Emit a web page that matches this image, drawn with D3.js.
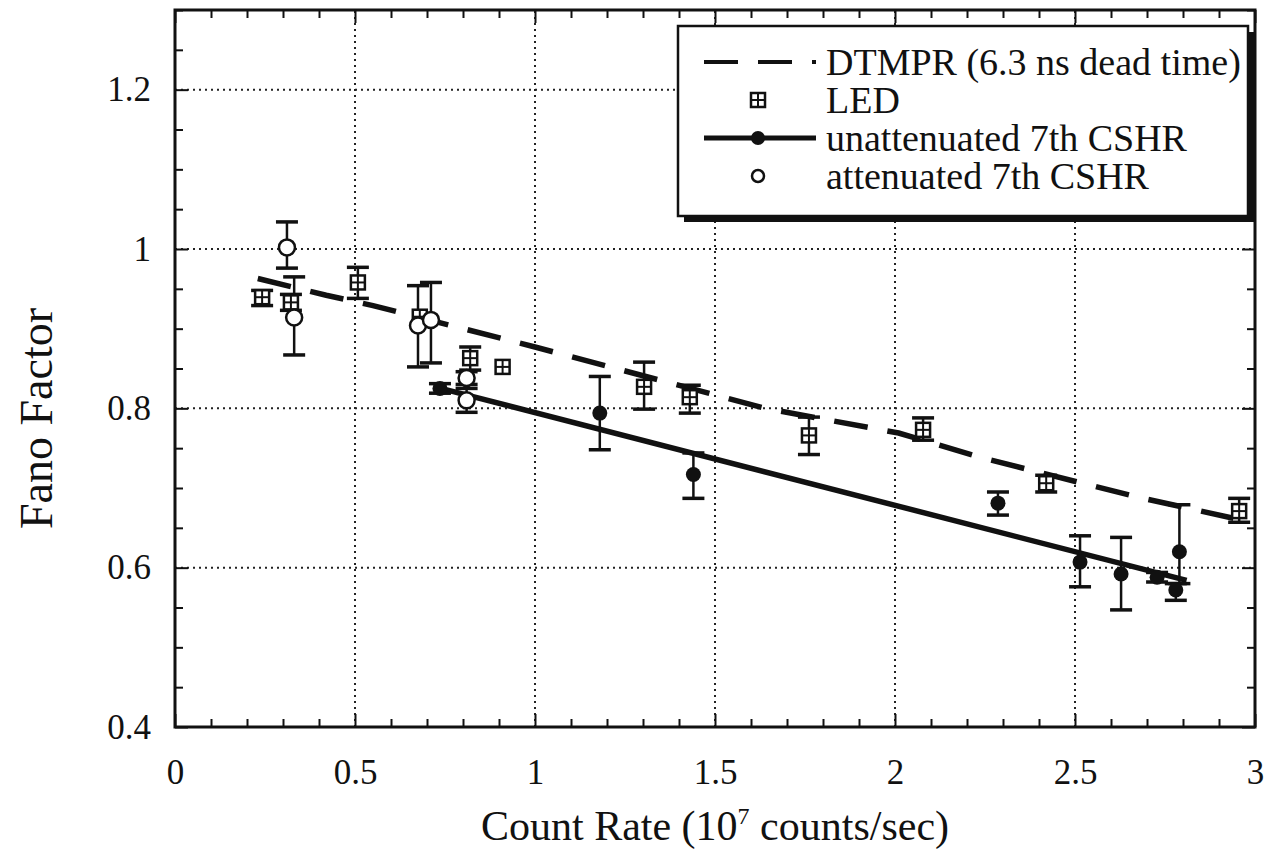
<!DOCTYPE html>
<html>
<head>
<meta charset="utf-8">
<script src="https://cdn.jsdelivr.net/npm/d3@7"></script>
<style>
  body { margin: 0; background: #fff; }
  text { font-family: "Liberation Serif", "DejaVu Serif", serif; fill: #111; }
</style>
</head>
<body>
<svg id="chart" width="1264" height="854"></svg>
<script>
const width = 1264, height = 854;
const marginLeft = 175, marginRight = 9, marginTop = 10, marginBottom = 127;

// DTMPR model curve
const dtmprX = [0.23, 0.42, 0.55, 1.0, 1.64, 2.01, 2.24, 2.67, 2.94];
const dtmprY = [0.963, 0.942, 0.929, 0.877, 0.80, 0.769, 0.738, 0.689, 0.662];

// LED points with error bar ends
const ledX  = [0.242, 0.322, 0.508, 0.68, 0.82, 0.91, 1.303, 1.43, 1.761, 2.078, 2.42, 2.956];
const ledY  = [0.9395, 0.933, 0.958, 0.915, 0.863, 0.852, 0.827, 0.814, 0.766, 0.773, 0.706, 0.671];
const ledHi = [0.948, 0.943, 0.977, 0.915, 0.877, 0.852, 0.858, 0.829, 0.789, 0.788, 0.716, 0.687];
const ledLo = [0.929, 0.923, 0.938, 0.915, 0.848, 0.852, 0.799, 0.794, 0.742, 0.760, 0.695, 0.657];

// unattenuated 7th CSHR (filled) and its fit line
const unX  = [0.736, 1.18, 1.44, 2.286, 2.514, 2.628, 2.728, 2.79, 2.78];
const unY  = [0.825, 0.794, 0.717, 0.681, 0.607, 0.592, 0.588, 0.62, 0.572];
const unHi = [0.831, 0.84, 0.744, 0.695, 0.64, 0.638, 0.594, 0.679, 0.58];
const unLo = [0.819, 0.748, 0.687, 0.666, 0.576, 0.547, 0.582, 0.58, 0.559];
const fitX = [0.722, 2.81];
const fitY = [0.827, 0.584];

// attenuated 7th CSHR (open)
const atX  = [0.311, 0.331, 0.675, 0.711, 0.81, 0.81];
const atY  = [1.002, 0.914, 0.904, 0.911, 0.838, 0.81];
const atHi = [1.034, 0.965, 0.954, 0.958, 0.846, 0.825];
const atLo = [0.976, 0.867, 0.852, 0.857, 0.830, 0.795];

const xMajor = [0, 0.5, 1, 1.5, 2, 2.5, 3];
const xLabels = ["0", "0.5", "1", "1.5", "2", "2.5", "3"];
const yMajor = [0.4, 0.6, 0.8, 1.0, 1.2];
const yLabels = ["0.4", "0.6", "0.8", "1", "1.2"];
const legendNames = ["DTMPR (6.3 ns dead time)", "LED", "unattenuated 7th CSHR", "attenuated 7th CSHR"];

const svg = d3.select("#chart");
svg.append("rect").attr("width", width).attr("height", height).attr("fill", "#fff");

const x = d3.scaleLinear().domain([0, 3]).range([marginLeft, width - marginRight]);
const y = d3.scaleLinear().domain([0.4, 1.3]).range([height - marginBottom, marginTop]);
const x0 = x.range()[0], x1 = x.range()[1], y0 = y.range()[0], y1 = y.range()[1];

// dotted grid at major ticks
svg.append("g")
  .selectAll("line.gx").data(xMajor.slice(1, -1)).join("line")
    .attr("x1", d => x(d)).attr("x2", d => x(d))
    .attr("y1", y0).attr("y2", y1)
    .attr("stroke", "#222").attr("stroke-width", 2).attr("stroke-dasharray", "2,4");
svg.append("g")
  .selectAll("line.gy").data(yMajor.slice(1)).join("line")
    .attr("x1", x0).attr("x2", x1)
    .attr("y1", d => y(d)).attr("y2", d => y(d))
    .attr("stroke", "#222").attr("stroke-width", 2).attr("stroke-dasharray", "2,4");

// axes with inward ticks, minor ticks on all four sides
const xMinor = d3.range(0, 3.001, 0.1).filter(v => Math.abs(v * 2 - Math.round(v * 2)) > 1e-6);
const yMinor = d3.range(0.4, 1.301, 0.05).filter(v => Math.abs(v * 5 - Math.round(v * 5)) > 1e-6);

function styleAxis(g) {
  g.selectAll(".domain").remove();
  g.selectAll(".tick line").attr("stroke", "#111").attr("stroke-width", 2);
}

svg.append("g").attr("transform", `translate(0,${y0})`)
  .call(d3.axisBottom(x).tickValues(xMajor).tickSize(-13).tickPadding(32).tickFormat((d, i) => xLabels[i]))
  .call(styleAxis)
  .call(g => g.selectAll(".tick text").style("font-size", "35px").attr("font-family", null));
svg.append("g").attr("transform", `translate(0,${y0})`)
  .call(d3.axisBottom(x).tickValues(xMinor).tickSize(-8).tickFormat(""))
  .call(styleAxis);
svg.append("g").attr("transform", `translate(0,${y1})`)
  .call(d3.axisTop(x).tickValues(xMajor).tickSize(-13).tickFormat(""))
  .call(styleAxis);
svg.append("g").attr("transform", `translate(0,${y1})`)
  .call(d3.axisTop(x).tickValues(xMinor).tickSize(-8).tickFormat(""))
  .call(styleAxis);

svg.append("g").attr("transform", `translate(${x0},0)`)
  .call(d3.axisLeft(y).tickValues(yMajor).tickSize(-13).tickPadding(24).tickFormat((d, i) => yLabels[i]))
  .call(styleAxis)
  .call(g => g.selectAll(".tick text").style("font-size", "35px").attr("font-family", null));
svg.append("g").attr("transform", `translate(${x0},0)`)
  .call(d3.axisLeft(y).tickValues(yMinor).tickSize(-8).tickFormat(""))
  .call(styleAxis);
svg.append("g").attr("transform", `translate(${x1},0)`)
  .call(d3.axisRight(y).tickValues(yMajor).tickSize(-13).tickFormat(""))
  .call(styleAxis);
svg.append("g").attr("transform", `translate(${x1},0)`)
  .call(d3.axisRight(y).tickValues(yMinor).tickSize(-8).tickFormat(""))
  .call(styleAxis);

// frame
svg.append("rect")
  .attr("x", x0).attr("y", y1).attr("width", x1 - x0).attr("height", y0 - y1)
  .attr("fill", "none").attr("stroke", "#111").attr("stroke-width", 3);

// axis titles
svg.append("text")
  .attr("x", (x0 + x1) / 2).attr("y", 840)
  .attr("text-anchor", "middle").style("font-size", "42px")
  .call(t => {
    t.append("tspan").text("Count Rate (10");
    t.append("tspan").attr("dy", -16).style("font-size", "24px").text("7");
    t.append("tspan").attr("dy", 16).text(" counts/sec)");
  });
svg.append("text")
  .attr("transform", `translate(52,${(y0 + y1) / 2 + 50}) rotate(-90)`)
  .attr("text-anchor", "middle").style("font-size", "46px")
  .text("Fano Factor");

// model lines
const line = d3.line().x(d => x(d[0])).y(d => y(d[1]));
svg.append("path")
  .attr("d", line(d3.zip(dtmprX, dtmprY)))
  .attr("fill", "none").attr("stroke", "#111").attr("stroke-width", 5.5)
  .attr("stroke-dasharray", "34,20");
svg.append("path")
  .attr("d", line(d3.zip(fitX, fitY)))
  .attr("fill", "none").attr("stroke", "#111").attr("stroke-width", 5.5);

// error bars
function errorBars(xs, lo, hi) {
  const g = svg.append("g").attr("stroke", "#111");
  xs.forEach((v, i) => {
    if (hi[i] - lo[i] < 0.004) return;
    g.append("line").attr("x1", x(v)).attr("x2", x(v)).attr("y1", y(lo[i])).attr("y2", y(hi[i])).attr("stroke-width", 2.5);
    [lo[i], hi[i]].forEach(e => {
      g.append("line").attr("x1", x(v) - 11).attr("x2", x(v) + 11).attr("y1", y(e)).attr("y2", y(e)).attr("stroke-width", 3.5);
    });
  });
}
errorBars(ledX, ledLo, ledHi);
errorBars(unX, unLo, unHi);
errorBars(atX, atLo, atHi);

// markers
function ledMark(g, cx, cy) {
  g.append("rect").attr("x", cx - 7).attr("y", cy - 7).attr("width", 14).attr("height", 14)
    .attr("fill", "#fff").attr("stroke", "#111").attr("stroke-width", 2.5);
  g.append("line").attr("x1", cx - 7).attr("x2", cx + 7).attr("y1", cy).attr("y2", cy).attr("stroke", "#111").attr("stroke-width", 2);
  g.append("line").attr("x1", cx).attr("x2", cx).attr("y1", cy - 7).attr("y2", cy + 7).attr("stroke", "#111").attr("stroke-width", 2);
}
const marks = svg.append("g");
ledX.forEach((v, i) => ledMark(marks, x(v), y(ledY[i])));
marks.selectAll("circle.un").data(d3.zip(unX, unY)).join("circle")
  .attr("cx", d => x(d[0])).attr("cy", d => y(d[1])).attr("r", 7.5).attr("fill", "#111");
marks.selectAll("circle.at").data(d3.zip(atX, atY)).join("circle")
  .attr("cx", d => x(d[0])).attr("cy", d => y(d[1])).attr("r", 8)
  .attr("fill", "#fff").attr("stroke", "#111").attr("stroke-width", 2.5);

// legend
const lg = svg.append("g").attr("transform", "translate(678,26)");
const lw = 570, lh = 190;
lg.append("rect").attr("x", 6).attr("y", 6).attr("width", lw).attr("height", lh).attr("fill", "#111");
lg.append("rect").attr("width", lw).attr("height", lh).attr("fill", "#fff").attr("stroke", "#111").attr("stroke-width", 2.5);
const rowY = [36, 74, 112, 150];
legendNames.forEach((n, i) => {
  lg.append("text").attr("x", 148).attr("y", rowY[i]).attr("dy", "0.35em")
    .style("font-size", "38px").text(n);
});
lg.append("line").attr("x1", 26).attr("x2", 138).attr("y1", rowY[0]).attr("y2", rowY[0])
  .attr("stroke", "#111").attr("stroke-width", 4).attr("stroke-dasharray", "34,20");
ledMark(lg, 80, rowY[1]);
lg.append("line").attr("x1", 26).attr("x2", 138).attr("y1", rowY[2]).attr("y2", rowY[2])
  .attr("stroke", "#111").attr("stroke-width", 5);
lg.append("circle").attr("cx", 80).attr("cy", rowY[2]).attr("r", 7).attr("fill", "#111");
lg.append("circle").attr("cx", 80).attr("cy", rowY[3]).attr("r", 6)
  .attr("fill", "#fff").attr("stroke", "#111").attr("stroke-width", 2.5);
</script>
</body>
</html>
